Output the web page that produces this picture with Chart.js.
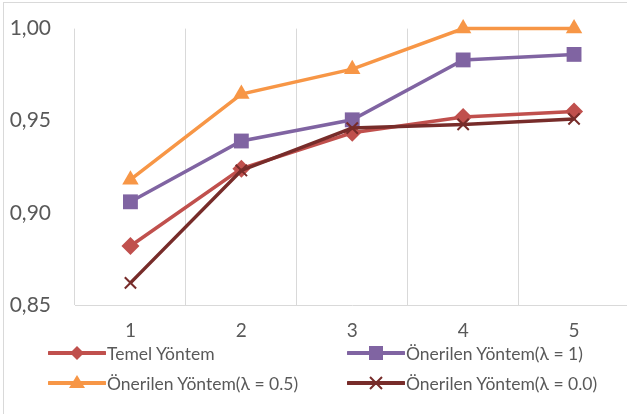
<!DOCTYPE html>
<html>
<head>
<meta charset="utf-8">
<script src="https://cdn.jsdelivr.net/npm/chart.js@4.4.1/dist/chart.umd.min.js"></script>
<style>
  html, body { margin: 0; padding: 0; background: #fff; overflow: hidden; width: 627px; height: 414px; }
  #wrap { position: relative; width: 627px; height: 414px; overflow: hidden; }
  #frame { position: absolute; left: 3px; top: 2px; width: 700px; height: 500px; border: 1px solid #d9d9d9; box-sizing: border-box; }
  #chartCanvas { position: absolute; left: 0; top: 0; }
  .leg { position: absolute; height: 20px; display: flex; align-items: center; font-family: Lato, sans-serif; font-size: 17.5px; color: #595959; white-space: nowrap; }
  .leg svg { margin-right: 1px; }
</style>
</head>
<body>
<div id="wrap">
  <div id="frame"></div>
  <canvas id="chartCanvas" width="640" height="414"></canvas>
  <div id="legend"></div>
</div>
<script>
//data
const categories = ['1', '2', '3', '4', '5'];
const seriesNames = ['Temel Yöntem', 'Önerilen Yöntem(λ = 1)', 'Önerilen Yöntem(λ = 0.5)', 'Önerilen Yöntem(λ = 0.0)'];
const temel = [0.882, 0.924, 0.9435, 0.952, 0.955];
const lambda1 = [0.906, 0.939, 0.9505, 0.983, 0.986];
const lambda05 = [0.918, 0.9645, 0.978, 1.000, 1.000];
const lambda00 = [0.862, 0.923, 0.946, 0.948, 0.951];
const yTicks = [0.85, 0.90, 0.95, 1.00];

//styles
const colors = ['#c0504d', '#8064a2', '#f79646', '#772c2a'];
const shapes = ['rectRot', 'rect', 'triangle', 'crossRot'];
const radii = [9, 10.5, 9.5, 8];
const values = [temel, lambda1, lambda05, lambda00];

const datasets = values.map((v, i) => ({
    label: seriesNames[i],
    data: v,
    borderColor: colors[i],
    backgroundColor: colors[i],
    borderWidth: 3.5,
    pointStyle: shapes[i],
    pointRadius: radii[i],
    pointBorderWidth: shapes[i] === 'crossRot' ? 2 : 0,
    pointBackgroundColor: colors[i],
    pointBorderColor: colors[i],
    tension: 0,
    clip: false,
    order: 4 - i
}));

const config = {
    type: 'line',
    data: { labels: categories, datasets: datasets },
    options: {
        responsive: false,
        animation: false,
        layout: { padding: { top: 19, right: 10, left: 0, bottom: 0 } },
        plugins: { legend: { display: false }, tooltip: { enabled: false } },
        scales: {
            x: {
                offset: true,
                grid: { offset: true, color: '#d9d9d9', lineWidth: 1, drawTicks: false },
                border: { color: '#d9d9d9', width: 1 },
                ticks: { color: '#595959', font: { family: 'Lato', size: 19 }, padding: 14, maxRotation: 0 },
                afterFit: (scale) => { scale.height = 414 - 305; }
            },
            y: {
                min: 0.85,
                max: 1.0,
                grid: { display: false },
                border: { display: false },
                ticks: {
                    color: '#595959',
                    font: { family: 'Lato', size: 21 },
                    padding: 16,
                    callback: (v) => Number(v).toFixed(2).replace('.', ',')
                },
                afterBuildTicks: (scale) => { scale.ticks = yTicks.map(v => ({ value: v })); },
                afterFit: (scale) => { scale.width = 75; }
            }
        }
    }
};

var myChart = new Chart(document.getElementById('chartCanvas'), config);

//legend
function markerSvg(i) {
    const c = colors[i];
    let m = '';
    if (shapes[i] === 'rectRot') m = `<polygon points="29,3 36,10 29,17 22,10" fill="${c}"/>`;
    else if (shapes[i] === 'rect') m = `<rect x="22" y="3" width="14" height="14" fill="${c}"/>`;
    else if (shapes[i] === 'triangle') m = `<polygon points="29,2 37,15 21,15" fill="${c}"/>`;
    else m = `<path d="M23,4 L35,16 M35,4 L23,16" stroke="${c}" stroke-width="2"/>`;
    return `<svg width="58" height="20"><line x1="1" y1="10" x2="57" y2="10" stroke="${c}" stroke-width="4" stroke-linecap="round"/>${m}</svg>`;
}
const legendPos = [[48, 343], [347, 343], [48, 373], [347, 373]];
const legend = document.getElementById('legend');
seriesNames.forEach((name, i) => {
    const d = document.createElement('div');
    d.className = 'leg';
    d.style.left = legendPos[i][0] + 'px';
    d.style.top = legendPos[i][1] + 'px';
    d.innerHTML = markerSvg(i) + '<span>' + name + '</span>';
    legend.appendChild(d);
});
</script>
</body>
</html>
